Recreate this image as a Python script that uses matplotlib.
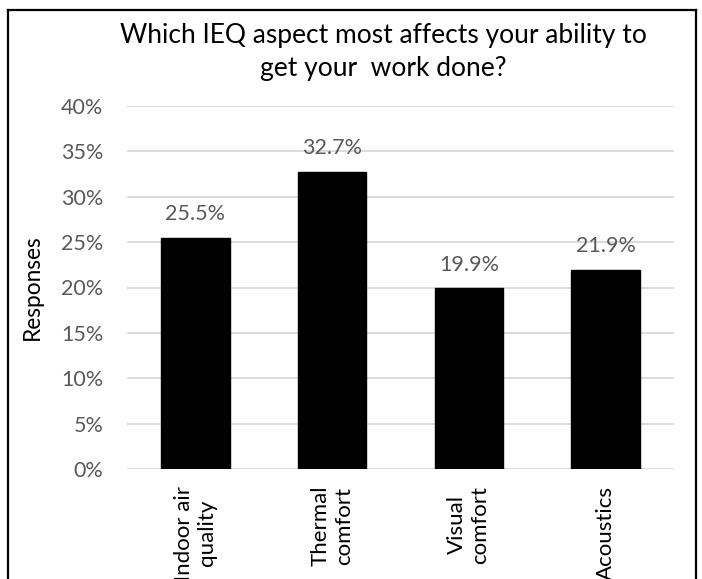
import matplotlib
matplotlib.use("Agg")
import matplotlib.pyplot as plt
from matplotlib.lines import Line2D
from matplotlib.ticker import PercentFormatter

categories = ["Indoor air\nquality", "Thermal\ncomfort", "Visual\ncomfort", "Acoustics"]
values = [25.5, 32.7, 19.9, 21.9]
yticks = [0, 5, 10, 15, 20, 25, 30, 35, 40]
title = "Which IEQ aspect most affects your ability to\nget your  work done?"
ylabel = "Responses"

plt.rcParams['font.family'] = ['Lato', 'DejaVu Sans']

W, H = 702, 579
fig = plt.figure(figsize=(W / 100, H / 100), dpi=100)
ax = fig.add_axes([127 / W, 1 - 469 / H, (674 - 127) / W, (469 - 106) / H])

x = list(range(len(categories)))
ax.bar(x, values, width=0.5, color="black", edgecolor="black", zorder=3)
ax.set_xlim(-0.5, len(categories) - 0.5)
ax.set_ylim(0, 40)
ax.set_yticks(yticks)
ax.yaxis.set_major_formatter(PercentFormatter(decimals=0))
ax.grid(axis="y", color="#d9d9d9", linewidth=1.3, zorder=0)
for s in ax.spines.values():
    s.set_visible(False)
ax.tick_params(axis="y", length=0, pad=17, labelsize=15.5, labelcolor="#595959")
ax.tick_params(axis="x", length=0, pad=12)
ax.set_xticks(x)
ax.set_xticklabels(categories, rotation=90, fontsize=16, color="black",
                   va="top", ha="center", linespacing=1.2)
ax.set_ylabel(ylabel, fontsize=16.3, color="black")
ax.yaxis.set_label_coords((43 - 127) / 547, 0.5)

for xi, v in zip(x, values):
    ax.annotate(f"{v:.1f}%", (xi, v), xytext=(0, 10), textcoords="offset points",
                ha="center", va="bottom", fontsize=15.5, color="#595959")

fig.text(383 / W, 1 - 52 / H, title, ha="center", va="center", fontsize=19,
         color="black", linespacing=1.42, multialignment="center")

# outer border (bottom edge lies outside the picture)
L, R, T = 8 / W, 696 / W, 1 - 10 / H
for xs, ys in [([L, L], [T, -0.1]), ([R, R], [T, -0.1]), ([L, R], [T, T])]:
    fig.add_artist(Line2D(xs, ys, color="black", linewidth=1.6, transform=fig.transFigure))

fig.savefig("out.png", dpi=100)
